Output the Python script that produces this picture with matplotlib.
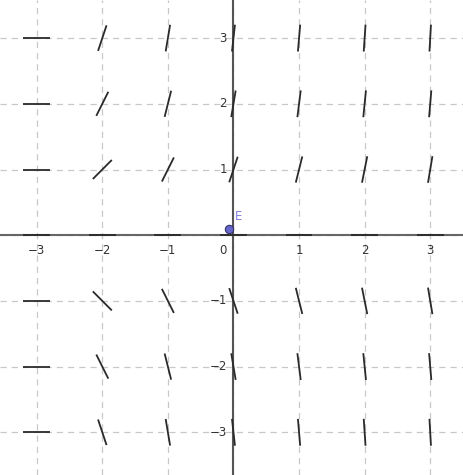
import numpy as np
import matplotlib
matplotlib.use('Agg')
import matplotlib.pyplot as plt
from matplotlib.collections import LineCollection

# Campo de pendientes
xs = [-3, -2, -1, 0, 1, 2, 3]
ys = [3, 2, 1, 0, -1, -2, -3]
# pendiente en cada punto (filas = ys, columnas = xs)
slopes = [
    [0, 3, 6, 9, 12, 15, 18],
    [0, 2, 4, 6, 8, 10, 12],
    [0, 1, 2, 3, 4, 5, 6],
    [0, 0, 0, 0, 0, 0, 0],
    [0, -1, -2, -3, -4, -5, -6],
    [0, -2, -4, -6, -8, -10, -12],
    [0, -3, -6, -9, -12, -15, -18],
]
tick_vals = [-3, -2, -1, 1, 2, 3]
point_E = (-0.07, 0.10)

seg_len = 0.41

fig = plt.figure(figsize=(4.63, 4.75), dpi=100)
ax = fig.add_axes([0, 0, 1, 1])
ax.set_xlim(-3.56, 3.5)
ax.set_ylim(-3.65, 3.58)
ax.axis('off')

# Rejilla
for v in xs:
    ax.axvline(v, color='#c8c8c8', lw=0.9, ls=(0, (5, 4)), zorder=1)
for v in ys:
    ax.axhline(v, color='#c8c8c8', lw=0.9, ls=(0, (5, 4)), zorder=1)

# Ejes
ax.axhline(0, color='#666666', lw=1.5, zorder=2)
ax.axvline(0, color='#555555', lw=1.5, zorder=2)

# Segmentos
segs = []
for i, y in enumerate(ys):
    for j, x in enumerate(xs):
        s = slopes[i][j]
        ang = np.arctan(s)
        dx = np.cos(ang) * seg_len / 2
        dy = np.sin(ang) * seg_len / 2
        segs.append([(x - dx, y - dy), (x + dx, y + dy)])
ax.add_collection(LineCollection(segs, colors='#2a2a2a', linewidths=1.3, zorder=3))

# Etiquetas
def lab(v):
    return '\u2212%d' % -v if v < 0 else str(v)

for v in tick_vals:
    ax.text(v, -0.13, lab(v), ha='center', va='top', fontsize=8.5, color='#333333', zorder=4)
    ax.text(-0.1, v, lab(v), ha='right', va='center', fontsize=8.5, color='#333333', zorder=4)
ax.text(-0.1, -0.13, '0', ha='right', va='top', fontsize=8.5, color='#333333')

# Punto E
ax.plot(*point_E, 'o', ms=6, mfc='#6666cc', mec='#333366', mew=0.8, zorder=5)
ax.text(0.015, 0.23, 'E', color='#8080e0', fontsize=8.5, va='baseline', zorder=5)

plt.savefig('out.png', dpi=100)
